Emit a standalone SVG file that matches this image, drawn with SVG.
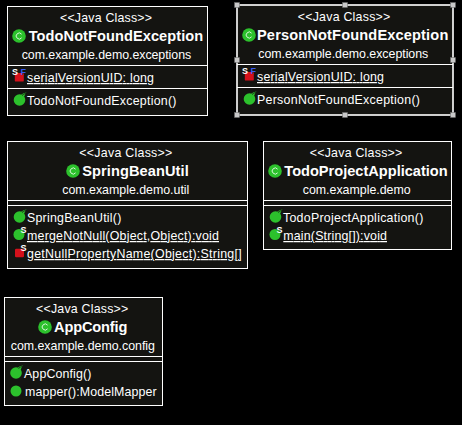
<svg xmlns="http://www.w3.org/2000/svg" width="462" height="425" viewBox="0 0 462 425">
<style>
text{font-family:"Liberation Sans",Arial,sans-serif;fill:#fff;font-size:12.400px}
.t{font-weight:bold;font-size:14.600px}
.u{text-decoration:underline}
.b{fill:#141411;stroke:#fff;stroke-width:1}
.sel{fill:#141411;stroke:#fff;stroke-width:1.600}
.l{stroke:#fff;stroke-width:1;fill:none}
.k{fill:#2cc12c}
.h{fill:#c8c8c8;stroke:#666;stroke-width:.5}
.s{font-size:9px;font-weight:bold}
.f{font-size:9px;font-weight:bold;fill:#3a5cf0}
</style>
<defs>
<g id="ci"><circle r="6.800" class="k"/><path d="M2.600-1.800A3 3 0 1 0 2.600 1.800" fill="none" stroke="#d8f5d8" stroke-width="1"/></g>
<g id="ctor"><circle r="5.800" class="k"/><path d="M1.500-5Q3.500-7.500 7-7.500Q5.500-6 4.500-3Z" class="k"/><path d="M2.500-4.500Q4-6.300 7-6.700" stroke="#141411" stroke-width=".8" fill="none"/></g>
<circle id="pub" r="5.500" class="k"/>
<rect id="priv" x="-4.500" y="-4.300" width="9" height="8.600" rx="1.200" fill="#d4111b"/>
</defs>
<rect width="462" height="425" fill="#000"/>
<g id="connectors"/>
<g id="TodoNotFoundException">
<rect class="b" x="7.500" y="6.500" width="200" height="109"/>
<path class="l" d="M7.500 65.500H207.500M7.500 88.500H207.500"/>
<text x="60" y="21.500" textLength="92">&lt;&lt;Java Class&gt;&gt;</text>
<use href="#ci" x="19" y="36"/>
<text class="t" x="28.700" y="41" textLength="174.500">TodoNotFoundException</text>
<text x="21.700" y="59" textLength="169.500">com.example.demo.exceptions</text>
<use href="#priv" x="19.300" y="77.300"/>
<text class="s" x="12" y="74.500">S</text><text class="f" x="20.500" y="74.500">F</text>
<text class="u" x="27" y="82" textLength="127">serialVersionUID: long</text>
<use href="#ctor" x="19.500" y="100"/>
<text x="27" y="105" textLength="149.500">TodoNotFoundException()</text>
</g>
<g id="PersonNotFoundException">
<rect class="sel" x="237" y="5" width="216" height="110"/>
<path class="l" d="M237 64.500H453M237 87.500H453"/>
<text x="297.700" y="20.500" textLength="92.600">&lt;&lt;Java Class&gt;&gt;</text>
<use href="#ci" x="249" y="35"/>
<text class="t" x="257" y="40" textLength="191.300">PersonNotFoundException</text>
<text x="258.300" y="58" textLength="170">com.example.demo.exceptions</text>
<use href="#priv" x="249.300" y="76.300"/>
<text class="s" x="242" y="73.500">S</text><text class="f" x="250.500" y="73.500">F</text>
<text class="u" x="257" y="81" textLength="127">serialVersionUID: long</text>
<use href="#ctor" x="249.500" y="99"/>
<text x="257" y="104" textLength="163">PersonNotFoundException()</text>
<rect class="h" x="234.500" y="2.500" width="5" height="5"/><rect class="h" x="342.500" y="2.500" width="5" height="5"/><rect class="h" x="450.500" y="2.500" width="5" height="5"/>
<rect class="h" x="234.500" y="57.500" width="5" height="5"/><rect class="h" x="450.500" y="57.500" width="5" height="5"/>
<rect class="h" x="234.500" y="112.500" width="5" height="5"/><rect class="h" x="342.500" y="112.500" width="5" height="5"/><rect class="h" x="450.500" y="112.500" width="5" height="5"/>
</g>
<g id="SpringBeanUtil">
<rect class="b" x="7.500" y="141.500" width="240" height="127"/>
<path class="l" d="M7.500 200.500H247.500M7.500 205.500H247.500"/>
<text x="79.300" y="156.500" textLength="93">&lt;&lt;Java Class&gt;&gt;</text>
<use href="#ci" x="73" y="171"/>
<text class="t" x="82.300" y="176" textLength="106.400">SpringBeanUtil</text>
<text x="62.300" y="194" textLength="127">com.example.demo.util</text>
<use href="#ctor" x="19.500" y="217"/>
<text x="27" y="222" textLength="94.300">SpringBeanUtil()</text>
<use href="#pub" x="19" y="234.500"/>
<text class="s" x="20.500" y="233">S</text>
<text class="u" x="27" y="240" textLength="192">mergeNotNull(Object,Object):void</text>
<use href="#priv" x="19.500" y="253"/>
<text class="s" x="20.500" y="251">S</text>
<text class="u" x="27" y="258" textLength="214.700">getNullPropertyName(Object):String[]</text>
</g>
<g id="TodoProjectApplication">
<rect class="b" x="263.500" y="141.500" width="188" height="108"/>
<path class="l" d="M263.500 200.500H451.500M263.500 205.500H451.500"/>
<text x="309.700" y="156.500" textLength="92.600">&lt;&lt;Java Class&gt;&gt;</text>
<use href="#ci" x="275" y="171"/>
<text class="t" x="284.300" y="176" textLength="163.400">TodoProjectApplication</text>
<text x="302.700" y="194" textLength="108">com.example.demo</text>
<use href="#ctor" x="275.500" y="217"/>
<text x="283" y="222" textLength="140.300">TodoProjectApplication()</text>
<use href="#pub" x="275" y="234.500"/>
<text class="s" x="276.500" y="233">S</text>
<text class="u" x="283.300" y="240" textLength="103.700">main(String[]):void</text>
</g>
<g id="AppConfig">
<rect class="b" x="4.500" y="297.500" width="158" height="108"/>
<path class="l" d="M4.500 356.500H162.500M4.500 361.500H162.500"/>
<text x="36" y="312.500" textLength="92.300">&lt;&lt;Java Class&gt;&gt;</text>
<use href="#ci" x="45" y="327"/>
<text class="t" x="54" y="332" textLength="73.300">AppConfig</text>
<text x="10.700" y="350" textLength="144.300">com.example.demo.config</text>
<use href="#ctor" x="16" y="373"/>
<text x="24" y="378" textLength="67.300">AppConfig()</text>
<use href="#pub" x="16" y="391"/>
<text x="25" y="396" textLength="131.700">mapper():ModelMapper</text>
</g>
</svg>
